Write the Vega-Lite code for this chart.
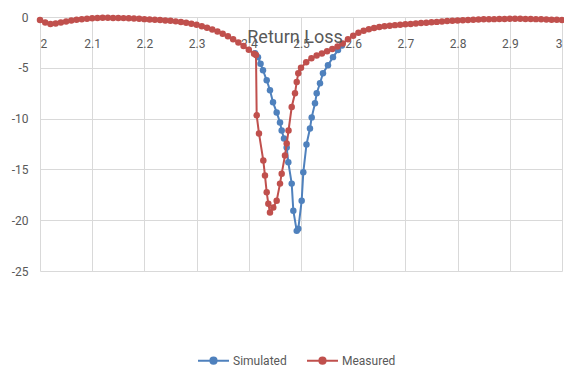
{
  "$schema": "https://vega.github.io/schema/vega-lite/v6.json",
  "autosize": {"type": "none"},
  "padding": {"left": 40, "top": 17, "right": 2, "bottom": 97},
  "width": 522,
  "height": 254,
  "background": "white",
  "config": {
    "view": {"stroke": null},
    "font": "Roboto",
    "axis": {"labelFont": "Roboto", "labelColor": "#595959", "labelFontSize": 12, "gridColor": "#d9d9d9", "gridWidth": 1, "ticks": false, "title": null},
    "legend": {"labelFont": "Roboto", "labelColor": "#595959", "labelFontSize": 12}
  },
  "title": {"text": "Return Loss", "font": "Roboto", "fontSize": 18, "fontWeight": "normal", "color": "#595959", "anchor": "middle", "frame": "group", "baseline": "alphabetic", "offset": -50, "dx": -6},
  "datasets": {
    "sim": [
      {"series": "Simulated", "f": 2.412, "s11": -3.56},
      {"series": "Simulated", "f": 2.4176, "s11": -3.95},
      {"series": "Simulated", "f": 2.4225, "s11": -4.6},
      {"series": "Simulated", "f": 2.4272, "s11": -5.24},
      {"series": "Simulated", "f": 2.4343, "s11": -6.23},
      {"series": "Simulated", "f": 2.4406, "s11": -7.21},
      {"series": "Simulated", "f": 2.4464, "s11": -8.4},
      {"series": "Simulated", "f": 2.4534, "s11": -9.39},
      {"series": "Simulated", "f": 2.4598, "s11": -10.38},
      {"series": "Simulated", "f": 2.463, "s11": -11.17},
      {"series": "Simulated", "f": 2.4674, "s11": -11.96},
      {"series": "Simulated", "f": 2.4726, "s11": -12.85},
      {"series": "Simulated", "f": 2.4757, "s11": -14.3},
      {"series": "Simulated", "f": 2.4822, "s11": -16.4},
      {"series": "Simulated", "f": 2.4853, "s11": -19.07},
      {"series": "Simulated", "f": 2.4918, "s11": -21.05},
      {"series": "Simulated", "f": 2.4948, "s11": -20.85},
      {"series": "Simulated", "f": 2.5013, "s11": -18.08},
      {"series": "Simulated", "f": 2.5044, "s11": -15.29},
      {"series": "Simulated", "f": 2.5105, "s11": -12.55},
      {"series": "Simulated", "f": 2.5172, "s11": -10.97},
      {"series": "Simulated", "f": 2.5205, "s11": -9.88},
      {"series": "Simulated", "f": 2.5268, "s11": -8.5},
      {"series": "Simulated", "f": 2.5301, "s11": -7.51},
      {"series": "Simulated", "f": 2.5364, "s11": -6.52},
      {"series": "Simulated", "f": 2.5421, "s11": -5.53},
      {"series": "Simulated", "f": 2.5517, "s11": -4.74},
      {"series": "Simulated", "f": 2.5613, "s11": -3.95},
      {"series": "Simulated", "f": 2.5709, "s11": -3.26},
      {"series": "Simulated", "f": 2.5785, "s11": -2.8}
    ],
    "meas": [
      {"series": "Measured", "f": 2.0, "s11": -0.3},
      {"series": "Measured", "f": 2.01, "s11": -0.55},
      {"series": "Measured", "f": 2.02, "s11": -0.7},
      {"series": "Measured", "f": 2.03, "s11": -0.65},
      {"series": "Measured", "f": 2.04, "s11": -0.55},
      {"series": "Measured", "f": 2.05, "s11": -0.45},
      {"series": "Measured", "f": 2.06, "s11": -0.35},
      {"series": "Measured", "f": 2.07, "s11": -0.28},
      {"series": "Measured", "f": 2.08, "s11": -0.22},
      {"series": "Measured", "f": 2.09, "s11": -0.17},
      {"series": "Measured", "f": 2.1, "s11": -0.13},
      {"series": "Measured", "f": 2.11, "s11": -0.1},
      {"series": "Measured", "f": 2.12, "s11": -0.08},
      {"series": "Measured", "f": 2.13, "s11": -0.08},
      {"series": "Measured", "f": 2.14, "s11": -0.09},
      {"series": "Measured", "f": 2.15, "s11": -0.1},
      {"series": "Measured", "f": 2.16, "s11": -0.11},
      {"series": "Measured", "f": 2.17, "s11": -0.13},
      {"series": "Measured", "f": 2.18, "s11": -0.15},
      {"series": "Measured", "f": 2.19, "s11": -0.18},
      {"series": "Measured", "f": 2.2, "s11": -0.21},
      {"series": "Measured", "f": 2.21, "s11": -0.24},
      {"series": "Measured", "f": 2.22, "s11": -0.27},
      {"series": "Measured", "f": 2.23, "s11": -0.3},
      {"series": "Measured", "f": 2.24, "s11": -0.34},
      {"series": "Measured", "f": 2.25, "s11": -0.38},
      {"series": "Measured", "f": 2.26, "s11": -0.43},
      {"series": "Measured", "f": 2.27, "s11": -0.49},
      {"series": "Measured", "f": 2.28, "s11": -0.57},
      {"series": "Measured", "f": 2.29, "s11": -0.66},
      {"series": "Measured", "f": 2.3, "s11": -0.77},
      {"series": "Measured", "f": 2.31, "s11": -0.9},
      {"series": "Measured", "f": 2.32, "s11": -1.05},
      {"series": "Measured", "f": 2.33, "s11": -1.22},
      {"series": "Measured", "f": 2.34, "s11": -1.42},
      {"series": "Measured", "f": 2.35, "s11": -1.65},
      {"series": "Measured", "f": 2.36, "s11": -1.9},
      {"series": "Measured", "f": 2.37, "s11": -2.18},
      {"series": "Measured", "f": 2.38, "s11": -2.5},
      {"series": "Measured", "f": 2.39, "s11": -2.85},
      {"series": "Measured", "f": 2.4, "s11": -3.22},
      {"series": "Measured", "f": 2.41, "s11": -3.62},
      {"series": "Measured", "f": 2.4138, "s11": -3.75},
      {"series": "Measured", "f": 2.4151, "s11": -9.68},
      {"series": "Measured", "f": 2.4195, "s11": -11.46},
      {"series": "Measured", "f": 2.4278, "s11": -14.13},
      {"series": "Measured", "f": 2.431, "s11": -15.61},
      {"series": "Measured", "f": 2.4343, "s11": -17.26},
      {"series": "Measured", "f": 2.4374, "s11": -18.38},
      {"series": "Measured", "f": 2.4406, "s11": -19.24},
      {"series": "Measured", "f": 2.4469, "s11": -18.74},
      {"series": "Measured", "f": 2.4534, "s11": -18.08},
      {"series": "Measured", "f": 2.4598, "s11": -16.4},
      {"series": "Measured", "f": 2.463, "s11": -15.42},
      {"series": "Measured", "f": 2.4693, "s11": -13.64},
      {"series": "Measured", "f": 2.4726, "s11": -12.45},
      {"series": "Measured", "f": 2.4761, "s11": -11.17},
      {"series": "Measured", "f": 2.4822, "s11": -8.86},
      {"series": "Measured", "f": 2.4885, "s11": -7.51},
      {"series": "Measured", "f": 2.4918, "s11": -6.39},
      {"series": "Measured", "f": 2.4948, "s11": -5.53},
      {"series": "Measured", "f": 2.5, "s11": -5.0},
      {"series": "Measured", "f": 2.51, "s11": -4.45},
      {"series": "Measured", "f": 2.52, "s11": -4.05},
      {"series": "Measured", "f": 2.53, "s11": -3.8},
      {"series": "Measured", "f": 2.54, "s11": -3.6},
      {"series": "Measured", "f": 2.55, "s11": -3.38},
      {"series": "Measured", "f": 2.56, "s11": -3.15},
      {"series": "Measured", "f": 2.57, "s11": -2.9},
      {"series": "Measured", "f": 2.58, "s11": -2.6},
      {"series": "Measured", "f": 2.59, "s11": -2.2},
      {"series": "Measured", "f": 2.6, "s11": -1.85},
      {"series": "Measured", "f": 2.61, "s11": -1.55},
      {"series": "Measured", "f": 2.62, "s11": -1.35},
      {"series": "Measured", "f": 2.63, "s11": -1.2},
      {"series": "Measured", "f": 2.64, "s11": -1.08},
      {"series": "Measured", "f": 2.65, "s11": -0.98},
      {"series": "Measured", "f": 2.66, "s11": -0.91},
      {"series": "Measured", "f": 2.67, "s11": -0.85},
      {"series": "Measured", "f": 2.68, "s11": -0.8},
      {"series": "Measured", "f": 2.69, "s11": -0.76},
      {"series": "Measured", "f": 2.7, "s11": -0.72},
      {"series": "Measured", "f": 2.71, "s11": -0.68},
      {"series": "Measured", "f": 2.72, "s11": -0.64},
      {"series": "Measured", "f": 2.73, "s11": -0.6},
      {"series": "Measured", "f": 2.74, "s11": -0.56},
      {"series": "Measured", "f": 2.75, "s11": -0.52},
      {"series": "Measured", "f": 2.76, "s11": -0.48},
      {"series": "Measured", "f": 2.77, "s11": -0.44},
      {"series": "Measured", "f": 2.78, "s11": -0.4},
      {"series": "Measured", "f": 2.79, "s11": -0.37},
      {"series": "Measured", "f": 2.8, "s11": -0.34},
      {"series": "Measured", "f": 2.81, "s11": -0.31},
      {"series": "Measured", "f": 2.82, "s11": -0.29},
      {"series": "Measured", "f": 2.83, "s11": -0.27},
      {"series": "Measured", "f": 2.84, "s11": -0.25},
      {"series": "Measured", "f": 2.85, "s11": -0.23},
      {"series": "Measured", "f": 2.86, "s11": -0.22},
      {"series": "Measured", "f": 2.87, "s11": -0.21},
      {"series": "Measured", "f": 2.88, "s11": -0.2},
      {"series": "Measured", "f": 2.89, "s11": -0.19},
      {"series": "Measured", "f": 2.9, "s11": -0.18},
      {"series": "Measured", "f": 2.91, "s11": -0.18},
      {"series": "Measured", "f": 2.92, "s11": -0.18},
      {"series": "Measured", "f": 2.93, "s11": -0.19},
      {"series": "Measured", "f": 2.94, "s11": -0.2},
      {"series": "Measured", "f": 2.95, "s11": -0.21},
      {"series": "Measured", "f": 2.96, "s11": -0.22},
      {"series": "Measured", "f": 2.97, "s11": -0.24},
      {"series": "Measured", "f": 2.98, "s11": -0.26},
      {"series": "Measured", "f": 2.99, "s11": -0.28},
      {"series": "Measured", "f": 3.0, "s11": -0.3}
    ]
  },
  "encoding": {
    "x": {"field": "f", "type": "quantitative", "scale": {"domain": [2, 3], "nice": false, "zero": false},
      "axis": {"orient": "bottom", "offset": -254, "values": [2, 2.1, 2.2, 2.3, 2.4, 2.5, 2.6, 2.7, 2.8, 2.9, 3], "format": "~g", "labelPadding": 21, "domain": true, "domainColor": "#d9d9d9", "grid": true}},
    "y": {"field": "s11", "type": "quantitative", "scale": {"domain": [-25, 0], "nice": false, "zero": false},
      "axis": {"values": [0, -5, -10, -15, -20, -25], "labelExpr": "toString(datum.value)", "labelPadding": 12, "domain": false, "grid": true}},
    "color": {"field": "series", "type": "nominal", "scale": {"domain": ["Simulated", "Measured"], "range": ["#4F81BD", "#C0504D"]},
      "legend": {"title": null, "orient": "none", "direction": "horizontal", "legendX": 157, "legendY": 327, "columnPadding": 16, "labelOffset": 3,
        "symbolType": "M-1,0L1,0M0.2,0A0.2,0.2,0,1,1,-0.2,0A0.2,0.2,0,1,1,0.2,0Z", "symbolSize": 961, "symbolStrokeWidth": 2,
        "encode": {"symbols": {"update": {"stroke": {"scale": "color", "field": "value"}, "fill": {"scale": "color", "field": "value"}, "strokeWidth": {"value": 2}, "opacity": {"value": 1}}}}}}
  },
  "layer": [
    {"data": {"name": "sim"}, "mark": {"type": "line", "strokeWidth": 2, "point": {"filled": true, "size": 42}}},
    {"data": {"name": "meas"}, "mark": {"type": "line", "strokeWidth": 2, "point": {"filled": true, "size": 42}}}
  ]
}
